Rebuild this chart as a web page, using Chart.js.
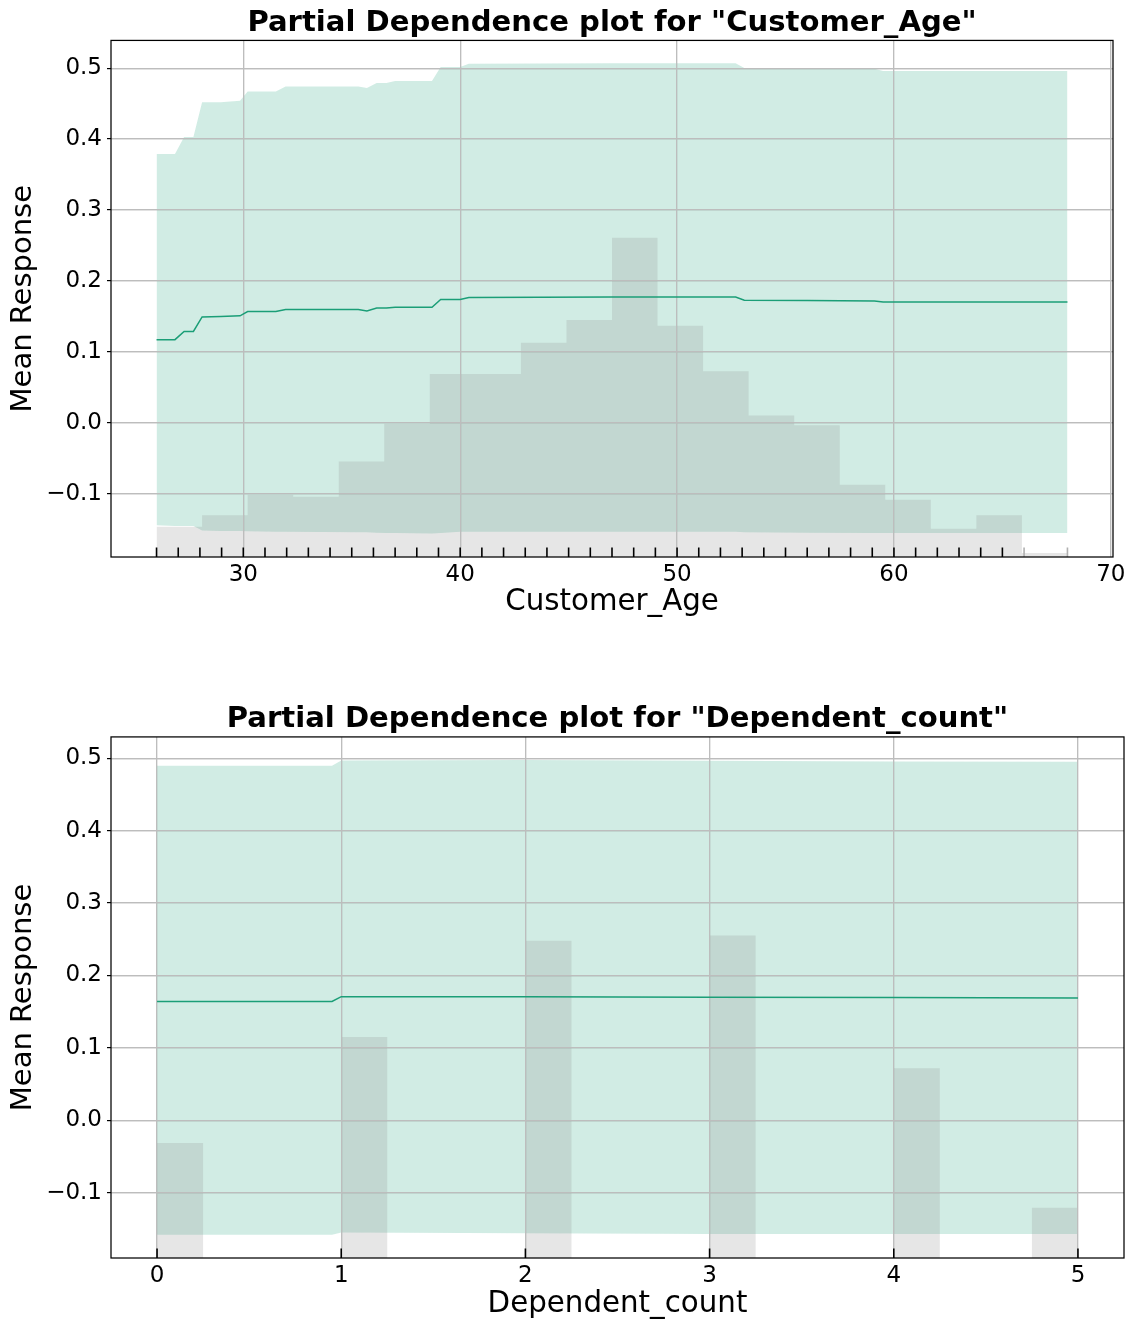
<!DOCTYPE html>
<html>
<head>
<meta charset="utf-8">
<script src="https://cdn.jsdelivr.net/npm/chart.js@4.4.1/dist/chart.umd.min.js"></script>
<style>
  html, body { margin: 0; padding: 0; background: #fff; }
  .panel { position: absolute; left: 0; width: 1137px; height: 661px; }
</style>
</head>
<body>
<div class="panel" style="top:0"><canvas id="age-chart" width="1137" height="661"></canvas></div>
<div class="panel" style="top:661px"><canvas id="dep-chart" width="1137" height="661"></canvas></div>
<script>
/* PDP 두 장: Customer_Age / Dependent_count */

// Customer_Age — grid points where the curves change
const ageGrid  = [26.0, 26.85, 27.27, 27.7, 28.1, 28.96, 29.85, 30.2, 31.5, 31.95, 35.3, 35.7, 36.15,
                  36.6, 37.0, 38.7, 39.1, 40.0, 40.4, 47.0, 52.7, 53.1, 56.0, 59.1, 59.5, 68.0];
const ageMean  = [0.1175, 0.1175, 0.129, 0.129, 0.1495, 0.150, 0.151, 0.157, 0.157, 0.160, 0.160, 0.158, 0.162,
                  0.162, 0.163, 0.163, 0.174, 0.174, 0.177, 0.1775, 0.1775, 0.173, 0.1725, 0.172, 0.1705, 0.1705];
const ageUpper = [0.379, 0.379, 0.403, 0.403, 0.452, 0.452, 0.454, 0.467, 0.467, 0.474, 0.474, 0.472, 0.479,
                  0.479, 0.482, 0.482, 0.5015, 0.5015, 0.506, 0.507, 0.507, 0.500, 0.500, 0.499, 0.496, 0.496];
const ageLower = [-0.144, -0.145, -0.145, -0.145, -0.1515, -0.152, -0.152, -0.1525, -0.153, -0.153, -0.154, -0.154, -0.1545,
                  -0.155, -0.155, -0.1555, -0.155, -0.153, -0.153, -0.153, -0.153, -0.154, -0.1545, -0.155, -0.155, -0.155];
const ageBinEdges   = [26, 28.1, 30.2, 32.3, 34.4, 36.5, 38.6, 40.7, 42.8, 44.9, 47, 49.1, 51.2, 53.3, 55.4,
                       57.5, 59.6, 61.7, 63.8, 65.9, 68];
const ageBinHeights = [-0.146, -0.130, -0.101, -0.104, -0.054, -0.001, 0.069, 0.069, 0.113, 0.145, 0.261,
                       0.137, 0.073, 0.0107, -0.003, -0.087, -0.108, -0.149, -0.130, -0.183];
const ageRug      = [26, 27, 28, 29, 30, 31, 32, 33, 34, 35, 36, 37, 38, 39, 40, 41, 42, 43, 44, 45, 46, 47,
                     48, 49, 50, 51, 52, 53, 54, 55, 56, 57, 58, 59, 60, 61, 62, 63, 64, 65, 66, 68];
const ageRugFaint = [66, 68];
const ageXTicks   = [30, 40, 50, 60, 70];

// Dependent_count
const depGrid  = [0, 0.95, 1.0, 2.0, 3.0, 4.0, 5.0];
const depMean  = [0.164, 0.164, 0.1707, 0.1705, 0.170, 0.1695, 0.169];
const depUpper = [0.4897, 0.4897, 0.4967, 0.4975, 0.4965, 0.4955, 0.495];
const depLower = [-0.158, -0.158, -0.155, -0.156, -0.157, -0.157, -0.157];
const depBinEdges   = [0, 0.25, 0.5, 0.75, 1, 1.25, 1.5, 1.75, 2, 2.25, 2.5, 2.75, 3, 3.25, 3.5, 3.75,
                       4, 4.25, 4.5, 4.75, 5];
const depBinHeights = [-0.0315, null, null, null, 0.115, null, null, null, 0.248, null, null, null,
                       0.255, null, null, null, 0.072, null, null, -0.1207];
const depRug    = [0, 1, 2, 3, 4, 5];
const depXTicks = [0, 1, 2, 3, 4, 5];

const yTicks = [-0.1, 0, 0.1, 0.2, 0.3, 0.4, 0.5];

const GREEN = '#1b9e77';
const BAND = 'rgba(27,158,119,0.2)';
const HIST = 'rgba(128,128,128,0.2)';
const GRID = '#bdbdbd';
const FONT = "'DejaVu Sans', sans-serif";
const NONE = 'rgba(0,0,0,0)';

function pts(xs, ys) {
    return xs.map((x, i) => ({x: x, y: ys[i]}));
}

// step outline of the histogram, empty bins sit on the axis floor
function histPts(edges, heights, base) {
    const out = heights.map((h, i) => ({x: edges[i], y: h === null ? base : h}));
    out.push({x: edges[edges.length - 1], y: out[out.length - 1].y});
    return out;
}

const fmtY = v => (v < 0 ? '\u2212' : '') + Math.abs(v).toFixed(1);

const framePlugin = {
    id: 'frame',
    afterDraw(chart) {
        const {ctx, chartArea: a} = chart;
        ctx.save();
        ctx.strokeStyle = '#000';
        ctx.lineWidth = 1.25;
        ctx.strokeRect(a.left, a.top, a.right - a.left, a.bottom - a.top);
        ctx.restore();
    }
};

// matplotlib puts the grid above the filled areas but under the line
const gridOverPlugin = {
    id: 'gridOver',
    afterDatasetDraw(chart, args) {
        if (chart.data.datasets[args.index].label !== 'hist') return;
        const {ctx, chartArea: a, scales} = chart;
        const lw = 1.2;
        const align = p => Math.round(p - lw / 2) + lw / 2;
        ctx.save();
        ctx.strokeStyle = GRID;
        ctx.lineWidth = lw;
        ctx.beginPath();
        scales.x.ticks.forEach(t => {
            const px = align(scales.x.getPixelForValue(t.value));
            ctx.moveTo(px, a.top);
            ctx.lineTo(px, a.bottom);
        });
        scales.y.ticks.forEach(t => {
            const py = align(scales.y.getPixelForValue(t.value));
            ctx.moveTo(a.left, py);
            ctx.lineTo(a.right, py);
        });
        ctx.stroke();
        ctx.restore();
    }
};

function makePdp(id, o) {
    const rugFaint = o.rugFaint || [];
    return new Chart(document.getElementById(id), {
        type: 'line',
        data: {
            datasets: [
                {
                    label: 'rug',
                    data: o.rug.map(x => ({x: x, y: o.yMin})),
                    showLine: false,
                    pointStyle: 'line',
                    rotation: 90,
                    pointRadius: 9.5,
                    pointHoverRadius: 9.5,
                    pointBorderWidth: 1.6,
                    pointBorderColor: o.rug.map(x => rugFaint.includes(x) ? '#b0b0b0' : '#000'),
                    clip: 0,
                },
                {
                    label: 'mean',
                    data: pts(o.grid, o.mean),
                    borderColor: GREEN,
                    borderWidth: 1.5,
                    pointRadius: 0,
                    fill: false,
                },
                {
                    label: 'hist',
                    data: histPts(o.binEdges, o.binHeights, o.yMin),
                    stepped: true,
                    borderColor: NONE,
                    borderWidth: 0,
                    pointRadius: 0,
                    backgroundColor: HIST,
                    fill: {value: o.yMin},
                },
                {
                    label: 'upper',
                    data: pts(o.grid, o.upper),
                    borderColor: NONE,
                    borderWidth: 0,
                    pointRadius: 0,
                    backgroundColor: BAND,
                    fill: '+1',
                },
                {
                    label: 'lower',
                    data: pts(o.grid, o.lower),
                    borderColor: NONE,
                    borderWidth: 0,
                    pointRadius: 0,
                    fill: false,
                },
            ]
        },
        options: {
            responsive: false,
            animation: false,
            devicePixelRatio: 1,
            layout: {padding: {left: 0, right: o.padRight, top: 0, bottom: 0}},
            plugins: {
                legend: {display: false},
                tooltip: {enabled: false},
                title: {
                    display: true,
                    fullSize: false,
                    text: o.title,
                    color: '#000',
                    font: {family: FONT, size: 29.1, weight: 'bold'},
                    padding: {top: o.titleTop, bottom: 0},
                },
            },
            scales: {
                x: {
                    type: 'linear',
                    min: o.xMin,
                    max: o.xMax,
                    afterFit: s => { s.height = o.xAxisH; },
                    afterBuildTicks: s => { s.ticks = o.xTicks.map(v => ({value: v})); },
                    grid: {color: GRID, lineWidth: 1.2, drawTicks: false},
                    border: {display: false},
                    ticks: {color: '#000', font: {family: FONT, size: 23}, padding: 4,
                            maxRotation: 0, autoSkip: false, callback: v => String(v)},
                    title: {display: true, text: o.xLabel, color: '#000',
                            font: {family: FONT, size: 29.3}, padding: {top: 0, bottom: o.xTitleBottom}},
                },
                y: {
                    type: 'linear',
                    min: o.yMin,
                    max: o.yMax,
                    afterFit: s => { s.width = 111; },
                    afterBuildTicks: s => { s.ticks = yTicks.map(v => ({value: v})); },
                    grid: {color: GRID, lineWidth: 1.2, drawTicks: true, tickLength: 4,
                           tickColor: '#000', tickWidth: 1.2},
                    border: {display: false},
                    ticks: {color: '#000', font: {family: FONT, size: 23}, padding: 5, callback: fmtY},
                    title: {display: true, text: 'Mean Response', color: '#000',
                            font: {family: FONT, size: 29}, padding: {top: 6, bottom: 0}},
                },
            },
        },
        plugins: [framePlugin, gridOverPlugin],
    });
}

makePdp('age-chart', {
    title: 'Partial Dependence plot for "Customer_Age"',
    xLabel: 'Customer_Age',
    grid: ageGrid, mean: ageMean, upper: ageUpper, lower: ageLower,
    binEdges: ageBinEdges, binHeights: ageBinHeights,
    rug: ageRug, rugFaint: ageRugFaint, xTicks: ageXTicks,
    xMin: 23.9, xMax: 70.1, yMin: -0.1887, yMax: 0.539,
    padRight: 24, titleTop: 5.5, xAxisH: 104, xTitleBottom: 41.5,
});

makePdp('dep-chart', {
    title: 'Partial Dependence plot for "Dependent_count"',
    xLabel: 'Dependent_count',
    grid: depGrid, mean: depMean, upper: depUpper, lower: depLower,
    binEdges: depBinEdges, binHeights: depBinHeights,
    rug: depRug, xTicks: depXTicks,
    xMin: -0.25, xMax: 5.25, yMin: -0.1902, yMax: 0.5294,
    padRight: 13, titleTop: 41, xAxisH: 64, xTitleBottom: 0,
});
</script>
</body>
</html>
